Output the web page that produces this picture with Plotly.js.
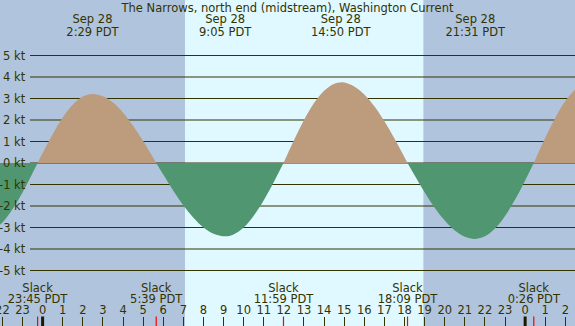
<!DOCTYPE html>
<html>
<head>
<meta charset="utf-8">
<script src="https://cdn.plot.ly/plotly-3.0.1.min.js"></script>
<style>html,body{margin:0;padding:0;background:#B0C4DE;}#chart{width:575px;height:326px;}</style>
</head>
<body>
<div id="chart"></div>
<script>
// ---- data (hours relative to Sep 28 00:00 PDT) ----
const times = [-2.5, -2, -1.5, -1, -0.5, -0.25,
  0, 0.5, 1, 1.5, 2, 2.48, 3, 3.5, 4, 4.5, 5, 5.5, 5.65,
  6, 6.5, 7, 7.5, 8, 8.5, 9.08, 9.5, 10, 10.5, 11, 11.5, 11.98,
  12.5, 13, 13.5, 14, 14.5, 14.83, 15, 15.5, 16, 16.5, 17, 17.5, 18, 18.15,
  18.5, 19, 19.5, 20, 20.5, 21, 21.52, 22, 22.5, 23, 23.5, 24, 24.43,
  25, 25.5, 26, 26.5, 27];
const speeds = [-3.16, -2.77, -2.15, -1.37, -0.47, 0,
  0.46, 1.34, 2.12, 2.71, 3.09, 3.21, 3.10, 2.81, 2.34, 1.73, 1.02, 0.24, 0,
  -0.54, -1.29, -1.98, -2.55, -3.00, -3.29, -3.41, -3.32, -3.00, -2.45, -1.73, -0.88, 0,
  1.06, 2.00, 2.79, 3.36, 3.69, 3.75, 3.74, 3.56, 3.19, 2.64, 1.94, 1.14, 0.27, 0,
  -0.57, -1.36, -2.08, -2.68, -3.14, -3.43, -3.53, -3.41, -3.05, -2.46, -1.70, -0.81, 0,
  1.17, 2.11, 2.88, 3.42, 3.69];

const maxTimes = [-3.0, 2.48, 9.08, 14.83, 21.52, 27.22];
const maxDates = ["Sep 27", "Sep 28", "Sep 28", "Sep 28", "Sep 28", "Sep 29"];
const maxLabels = ["20:59 PDT", "2:29 PDT", "9:05 PDT", "14:50 PDT", "21:31 PDT", "3:13 PDT"];

const slackTimes = [-0.25, 5.65, 11.98, 18.15, 24.43];
const slackLabels = ["23:45 PDT", "5:39 PDT", "11:59 PDT", "18:09 PDT", "0:26 PDT"];

const hourTicks = [-2,-1,0,1,2,3,4,5,6,7,8,9,10,11,12,13,14,15,16,17,18,19,20,21,22,23,24,25,26];
const hourLabels = ["22","23","0","1","2","3","4","5","6","7","8","9","10","11","12","13","14","15","16","17","18","19","20","21","22","23","0","1","2"];
const midnights = [0, 24];

const ktValues = [5,4,3,2,1,0,-1,-2,-3,-4,-5];
const ktLabels = ["5 kt","4 kt","3 kt","2 kt","1 kt","0 kt","-1 kt","-2 kt","-3 kt","-4 kt","-5 kt"];

const sunrise = 7.08, sunset = 18.94;
const title = "The Narrows, north end (midstream), Washington Current";

// ---- style ----
const FONT = "DejaVu Sans";
const TXT = "#333300";
const FS = 11.5;
const NIGHT = "#B0C4DE", DAY = "#E0F8FF";
const FLOOD = "#BC9C7C", EBB = "#509670";
const X0 = -2.12, X1 = 26.48;
const PXKT = 21.5, H = 326, ZERO = 163;
const yAt = py => (ZERO - py) / PXKT;  // pixel row -> data

// ---- split into flood / ebb runs ----
const traces = [];
let segX = [], segY = [];
function flush() {
  if (segX.length > 1) {
    const pos = segY.some(v => v > 0);
    traces.push({x: segX, y: segY, type: 'scatter', mode: 'lines',
      line: {shape: 'spline', smoothing: 1, width: 0, color: pos ? FLOOD : EBB},
      fill: 'tozeroy', fillcolor: pos ? FLOOD : EBB, hoverinfo: 'skip'});
  }
}
for (let i = 0; i < times.length; i++) {
  segX.push(times[i]); segY.push(speeds[i]);
  if (speeds[i] === 0 && segX.length > 1) {
    flush();
    segX = [times[i]]; segY = [0];
  }
}
flush();

const tf = {family: FONT, size: FS, color: TXT};
function textTrace(xs, txt, py) {
  return {x: xs, y: xs.map(() => yAt(py)), text: txt, type: 'scatter', mode: 'text',
    textposition: 'middle center', textfont: tf, cliponaxis: false, hoverinfo: 'skip'};
}
traces.push(textTrace(maxTimes, maxDates, 20.5));
traces.push(textTrace(maxTimes, maxLabels, 33));
traces.push(textTrace(slackTimes, slackTimes.map(() => "Slack"), 289));
traces.push(textTrace(slackTimes, slackLabels, 300.5));
traces.push(textTrace(hourTicks, hourLabels, 311.5));

const shapes = [];
shapes.push({type: 'rect', xref: 'x', yref: 'paper', x0: sunrise, x1: sunset, y0: 0, y1: 1,
  fillcolor: DAY, line: {width: 0}, layer: 'below'});
ktValues.forEach(v => shapes.push({type: 'line', xref: 'paper', yref: 'y', x0: 30/575, x1: 1, y0: v, y1: v,
  line: {color: TXT, width: 1}, layer: 'below'}));
slackTimes.forEach(t => shapes.push({type: 'line', xref: 'x', yref: 'paper', x0: t, x1: t, y0: 0, y1: 9.5/H,
  line: {color: '#FF0000', width: 1.2}, layer: 'above'}));
midnights.forEach(t => shapes.push({type: 'line', xref: 'x', yref: 'paper', x0: t, x1: t, y0: 0, y1: 9.5/H,
  line: {color: '#1a1a00', width: 3}, layer: 'above'}));

const annotations = ktValues.map((v, i) => ({xref: 'paper', yref: 'y', x: 28/575, y: v, xanchor: 'right',
  yanchor: 'middle', text: ktLabels[i], showarrow: false, font: tf}));

const layout = {
  width: 575, height: 326,
  margin: {l: 0, r: 0, t: 0, b: 0, pad: 0},
  paper_bgcolor: NIGHT, plot_bgcolor: NIGHT,
  showlegend: false,
  title: {text: title, font: {family: FONT, size: FS, color: TXT}, x: 0.5, xanchor: 'center',
    y: 1 - 8/H, yanchor: 'middle', yref: 'container'},
  xaxis: {range: [X0, X1], tickvals: hourTicks, ticks: 'inside', ticklen: 9.5, tickwidth: 1,
    tickcolor: TXT, showticklabels: false, showgrid: false, zeroline: false, showline: false,
    fixedrange: true, automargin: false},
  yaxis: {range: [-(H - ZERO)/PXKT, ZERO/PXKT], visible: false, showgrid: false, zeroline: false,
    fixedrange: true, automargin: false},
  shapes: shapes,
  annotations: annotations
};

Plotly.newPlot('chart', traces, layout, {displayModeBar: false, staticPlot: true});
</script>
</body>
</html>
